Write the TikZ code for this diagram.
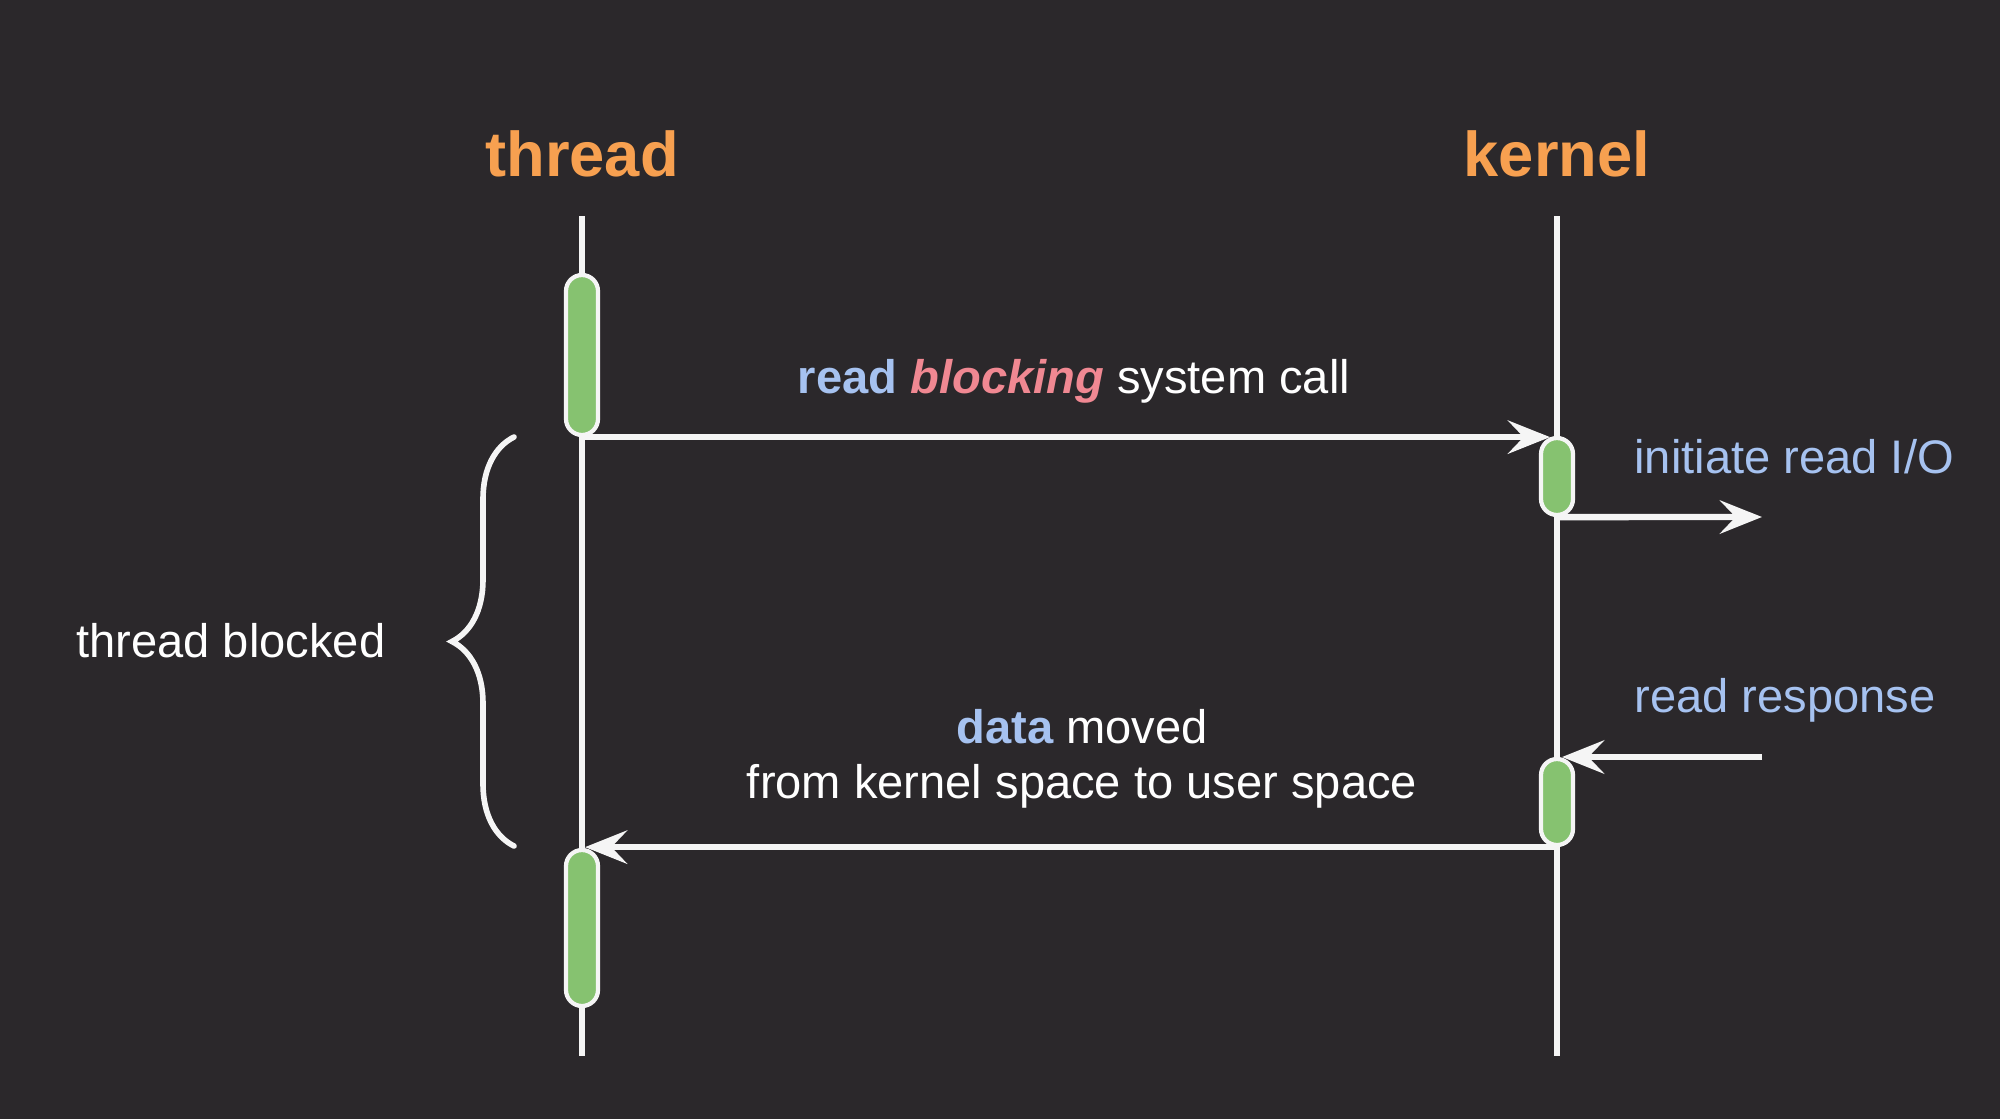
\documentclass[tikz,border=0pt]{standalone}
\usepackage{fontspec}
\setmainfont{Liberation Sans}
\usetikzlibrary{arrows.meta,decorations.pathreplacing}
\definecolor{bgdark}{RGB}{43,40,43}
\definecolor{hdrorange}{RGB}{247,160,80}
\definecolor{keyblue}{RGB}{166,194,240}
\definecolor{blockpink}{RGB}{240,136,146}
\definecolor{actgreen}{RGB}{134,194,112}
\definecolor{linewhite}{RGB}{245,245,245}

\begin{document}
\begin{tikzpicture}[
  hdr/.style={text=hdrorange, font=\fontsize{18}{21}\selectfont\bfseries, anchor=base},
  lbl/.style={text=white, font=\fontsize{13.4}{15.6}\selectfont, anchor=base west},
  lifeline/.style={draw=linewhite, line width=1.8pt},
  actbar/.style={draw=linewhite, line width=1.2pt, fill=actgreen, rounded corners=0.16cm, minimum width=0.32cm, inner sep=0pt},
  msg/.style={draw=linewhite, line width=1.8pt, -{Stealth[length=12pt, width=9.5pt, inset=4.5pt]}},
]
  \fill[bgdark] (0,0) rectangle (20,-11.19);
  \useasboundingbox (0,0) rectangle (20,-11.19);

  % the two lifelines
  \node[hdr] (thread) at (5.82,-1.76) {thread};
  \node[hdr] (kernel) at (15.57,-1.76) {kernel};
  \coordinate (thread top) at (5.82,-2.16);
  \coordinate (thread bot) at (5.82,-10.56);
  \coordinate (kernel top) at (15.57,-2.16);
  \coordinate (kernel bot) at (15.57,-10.56);
  \draw[lifeline] (thread top) -- (thread bot);
  \draw[lifeline] (kernel top) -- (kernel bot);

  % activations
  \node[actbar, minimum height=1.60cm] (t1) at (5.82,-3.55) {};
  \node[actbar, minimum height=0.77cm] (k1) at (15.57,-4.765) {};
  \node[actbar, minimum height=0.86cm] (k2) at (15.57,-8.02) {};
  \node[actbar, minimum height=1.56cm] (t2) at (5.82,-9.28) {};

  % messages
  \coordinate (io end) at (17.62,-5.17);
  \coordinate (resp start) at (17.62,-7.57);
  \draw[msg, shorten >=0.07cm] (t1.south) -- (t1.south -| k1.north);
  \draw[msg] (k1.south) -- (io end);
  \draw[msg, shorten >=0.05cm] (resp start) -- (resp start -| k2.north);
  \draw[msg, shorten >=0.03cm] (k2.south) -- (k2.south -| t2.north);

  \node[lbl, anchor=base] (call) at (10.74,-3.93) {\textcolor{keyblue}{\bfseries read} \textcolor{blockpink}{\bfseries\itshape blocking} system call};
  \node[lbl, text=keyblue] (initio) at (16.22,-4.73) {initiate read I/O};
  \node[lbl, text=keyblue] (resp) at (16.22,-7.12) {read response};
  \node[lbl, anchor=center, align=center] (moved) at (10.82,-7.585) {\textcolor{keyblue}{\bfseries data} moved\\from kernel space to user space};

  % blocked span
  \coordinate (blk top) at (5.14,-4.37);
  \coordinate (blk bot) at (5.14,-8.46);
  \draw[linewhite, line width=1.6pt, line cap=round, decorate, decoration={brace, amplitude=0.62cm}] (blk bot) -- (blk top);
  \node[lbl] (blocked) at (0.64,-6.57) {thread blocked};
\end{tikzpicture}
\end{document}
